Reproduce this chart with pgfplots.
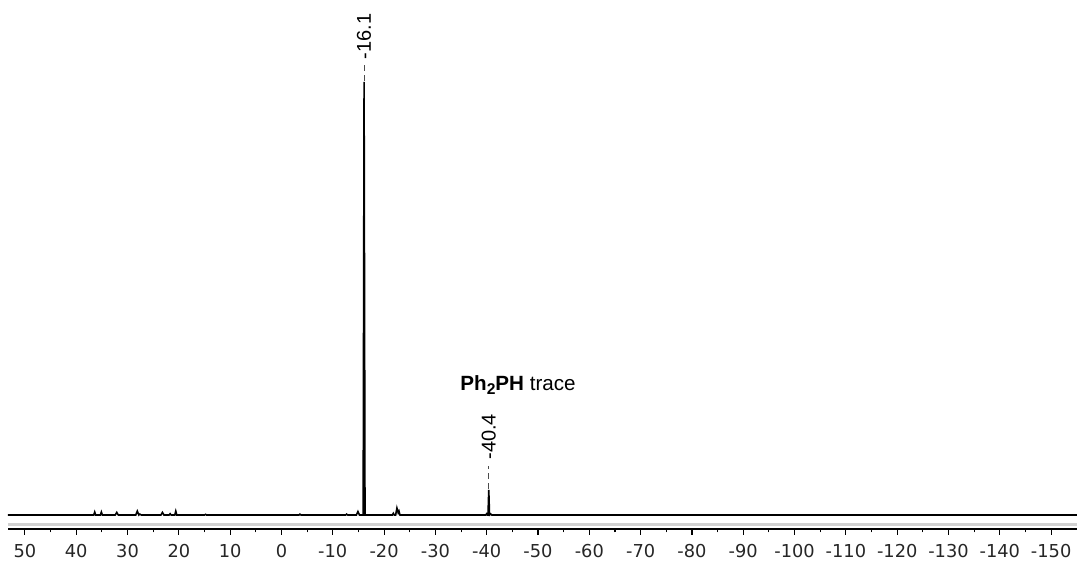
\documentclass[border=0pt]{standalone}
\usepackage{fontspec}
\setmainfont{Liberation Sans}
\newfontfamily\tickfont{DejaVu Sans}
\usepackage{pgfplots}
\pgfplotsset{compat=1.18}
\begin{document}
\begin{tikzpicture}
\useasboundingbox (0,0) rectangle (539pt,281.5pt);
\begin{axis}[
  at={(4pt,17pt)}, anchor=south west,
  scale only axis, width=534.4pt, height=264.5pt,
  x dir=reverse, xmin=-155, xmax=53.3, ymin=-3.23, ymax=118.9,
  axis x line=bottom, axis y line=none,
  axis line style={-, line width=0.7pt, black},
  xtick={-150,-140,...,50}, minor x tick num=1,
  tick align=outside, major tick length=2.8pt, minor tick length=1.7pt,
  tick style={line width=0.55pt, black},
  xticklabel style={font=\tickfont\fontsize{8.9}{10}\selectfont, text=black!85, yshift=-1.2pt},
  /pgf/number format/assume math mode=true,
  clip=false,
]
% light rule between spectrum and axis
\draw[black!18, line width=1.5pt] (axis cs:53.3,-2.19) -- (axis cs:-155,-2.19);

% 31P spectrum trace
\addplot[black, line width=0.8pt, line join=miter] coordinates {
(53.3,0) (37.0,0) (36.6,0) (36.4,0.7) (36.2,0) (35.3,0) (35.1,0.7) (34.9,0)
(32.4,0) (32.1,0.6) (31.8,0) (28.4,0) (28.1,0.9) (27.8,0) (27.6,0.2) (27.3,0)
(23.5,0) (23.2,0.6) (22.9,0) (21.9,0) (21.7,0.3) (21.5,0) (20.8,0) (20.6,0.9) (20.4,0)
(15,0) (14.8,0.15) (14.6,0) (-3.4,0) (-3.6,0.2) (-3.8,0)
(-12.5,0) (-12.7,0.2) (-12.9,0) (-14.6,0) (-14.9,0.8) (-15.2,0)
(-15.92,0) (-16.1,100) (-16.28,0)
(-21.6,0) (-21.8,0.4) (-22.0,0) (-22.25,0) (-22.5,1.6) (-22.75,0.5) (-22.9,0.9) (-23.1,0)
(-39.8,0) (-40.0,0.3) (-40.15,0) (-40.25,0) (-40.4,5.8) (-40.55,0) (-40.8,0.2) (-41.0,0)
(-155,0)
};

% peak picking labels
\draw[densely dashed, black!70, line width=0.4pt] (axis cs:-16.1,100.3) -- (axis cs:-16.1,104.6);
\node[rotate=90, anchor=west, inner sep=0pt, font=\fontsize{10}{12}\selectfont] at (axis cs:-16.1,105.1) {-16.1};
\draw[densely dashed, black!70, line width=0.4pt] (axis cs:-40.4,6.0) -- (axis cs:-40.4,11.3);
\node[rotate=90, anchor=west, inner sep=0pt, font=\fontsize{10}{12}\selectfont] at (axis cs:-40.4,12.7) {-40.4};

\node[font=\fontsize{10.3}{12}\selectfont] at (axis cs:-46.1,30) {\textbf{Ph\raisebox{-0.45ex}{\fontsize{7.8}{9}\selectfont 2}PH} trace};
\end{axis}
\end{tikzpicture}
\end{document}
